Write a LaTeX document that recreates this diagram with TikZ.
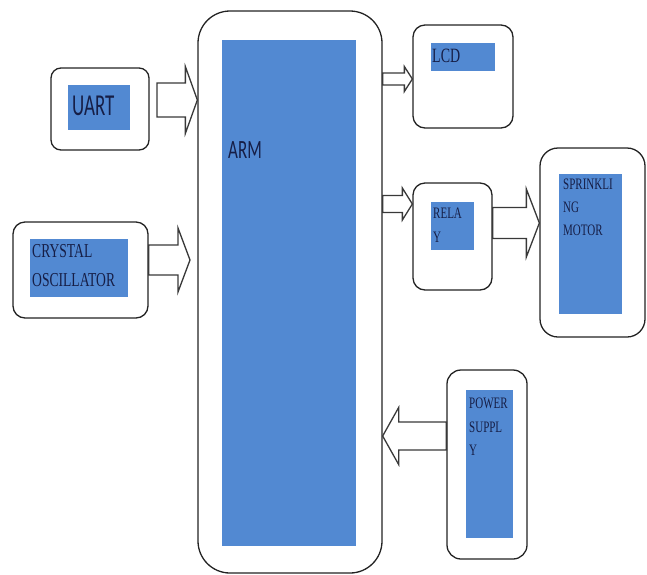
\documentclass[tikz,border=0pt]{standalone}
\usepackage{fontspec}
\usepackage{graphicx}
\setmainfont{Liberation Serif}
\newfontfamily\calfont{Carlito}
\usetikzlibrary{calc}
\definecolor{blk}{RGB}{82,137,210}
\definecolor{txt}{RGB}{22,30,70}
\definecolor{edge}{RGB}{35,35,35}
\newcommand\serifsz[2]{\fontsize{#1}{#1}\selectfont\scalebox{1}[1.45]{#2}}
\newcommand\blockarrow[5]{%
  \draw[barrow] let \p1=(#1), \p2=(#2), \n1={ifthenelse(\x2>\x1,1,-1)} in
  (\x1,\y1-#3) -- ({\x2-\n1*#5},\y1-#3) -- ({\x2-\n1*#5},\y1-#4) -- (\x2,\y2)
  -- ({\x2-\n1*#5},\y1+#4) -- ({\x2-\n1*#5},\y1+#3) -- (\x1,\y1+#3) -- cycle;}
\begin{document}
\begin{tikzpicture}[x=1pt,y=-1pt,
  box/.style={draw=edge,line width=1.3pt,fill=white,inner sep=0pt,rounded corners=#1},
  box/.default=12pt,
  bluebox/.style={fill=blk,inner sep=0pt},
  lbl/.style={anchor=base west,inner sep=0pt,text=txt},
  barrow/.style={draw=edge!90,line width=1.3pt,fill=white,line join=miter}]
\useasboundingbox (0,0) rectangle (647,574);
% boxes
\node[box=32pt,minimum width=184pt,minimum height=562pt] (arm) at (290,292) {};
\node[box=10pt,minimum width=98pt,minimum height=82pt] (uart) at (100,109) {};
\node[box=12pt,minimum width=135pt,minimum height=96pt] (crystal) at (80.5,270) {};
\node[box=12pt,minimum width=100pt,minimum height=103pt] (lcd) at (463,76.5) {};
\node[box=12pt,minimum width=79pt,minimum height=107pt] (relay) at (452.5,236.5) {};
\node[box=18pt,minimum width=105pt,minimum height=189pt] (motor) at (592.5,242.5) {};
\node[box=14pt,minimum width=80pt,minimum height=189pt] (power) at (487,464.5) {};
% blue areas
\node[bluebox,minimum width=134pt,minimum height=506pt] (armb) at (289,293) {};
\node[bluebox,minimum width=62pt,minimum height=45pt] (uartb) at (99,107.5) {};
\node[bluebox,minimum width=98pt,minimum height=58pt] (crystalb) at (79,268) {};
\node[bluebox,minimum width=64pt,minimum height=28pt] (lcdb) at (463,57) {};
\node[bluebox,minimum width=43pt,minimum height=48pt] (relayb) at (452.5,226) {};
\node[bluebox,minimum width=63pt,minimum height=140pt] (motorb) at (590.5,244) {};
\node[bluebox,minimum width=47pt,minimum height=148pt] (powerb) at (489.5,464) {};
% texts
\node[lbl] (tuart) at (72,115) {\calfont\fontsize{19}{19}\selectfont\scalebox{1}[1.6]{UART}};
\node[lbl] (tarm) at (228,158) {\calfont\fontsize{17}{17}\selectfont\scalebox{1}[1.55]{ARM}};
\node[lbl] (tcry1) at (32,257) {\serifsz{13.6}{CRYSTAL}};
\node[lbl] (tcry2) at (32,286) {\serifsz{13.6}{OSCILLATOR}};
\node[lbl] (tlcd) at (432,62) {\serifsz{14}{LCD}};
\node[lbl] (trel1) at (433,218) {\serifsz{11}{RELA}};
\node[lbl] (trel2) at (433,242) {\serifsz{11}{Y}};
\node[lbl] (tmot1) at (563,189) {\serifsz{11}{SPRINKLI}};
\node[lbl] (tmot2) at (563,212) {\serifsz{11}{NG}};
\node[lbl] (tmot3) at (563,235) {\serifsz{11}{MOTOR}};
\node[lbl] (tpow1) at (469,408) {\serifsz{11}{POWER}};
\node[lbl] (tpow2) at (469,432) {\serifsz{11}{SUPPL}};
\node[lbl] (tpow3) at (469,455) {\serifsz{11}{Y}};
% arrow end points
\coordinate (ua) at (157,100);
\coordinate (ut) at (arm.west |- ua);
\coordinate (ca) at (crystal.east |- 0,260);
\coordinate (ct) at (190,260);
\coordinate (la) at (arm.east |- 0,79);
\coordinate (lt) at (lcd.west |- 0,79);
\coordinate (ra) at (arm.east |- 0,204);
\coordinate (rt) at (relay.west |- 0,204);
\coordinate (ma) at (relay.east |- 0,223);
\coordinate (mt) at (motor.west |- 0,223);
\coordinate (pa) at (power.west |- 0,436);
\coordinate (pt) at (arm.east |- 0,436);
% block arrows
\blockarrow{ua}{ut}{17pt}{33.5pt}{12pt}
\blockarrow{ca}{ct}{15pt}{32pt}{12pt}
\blockarrow{la}{lt}{6pt}{12.5pt}{8pt}
\blockarrow{ra}{rt}{8.5pt}{16pt}{10pt}
\blockarrow{ma}{mt}{15.5pt}{34pt}{13pt}
\blockarrow{pa}{pt}{14pt}{28.5pt}{16pt}
\end{tikzpicture}
\end{document}
